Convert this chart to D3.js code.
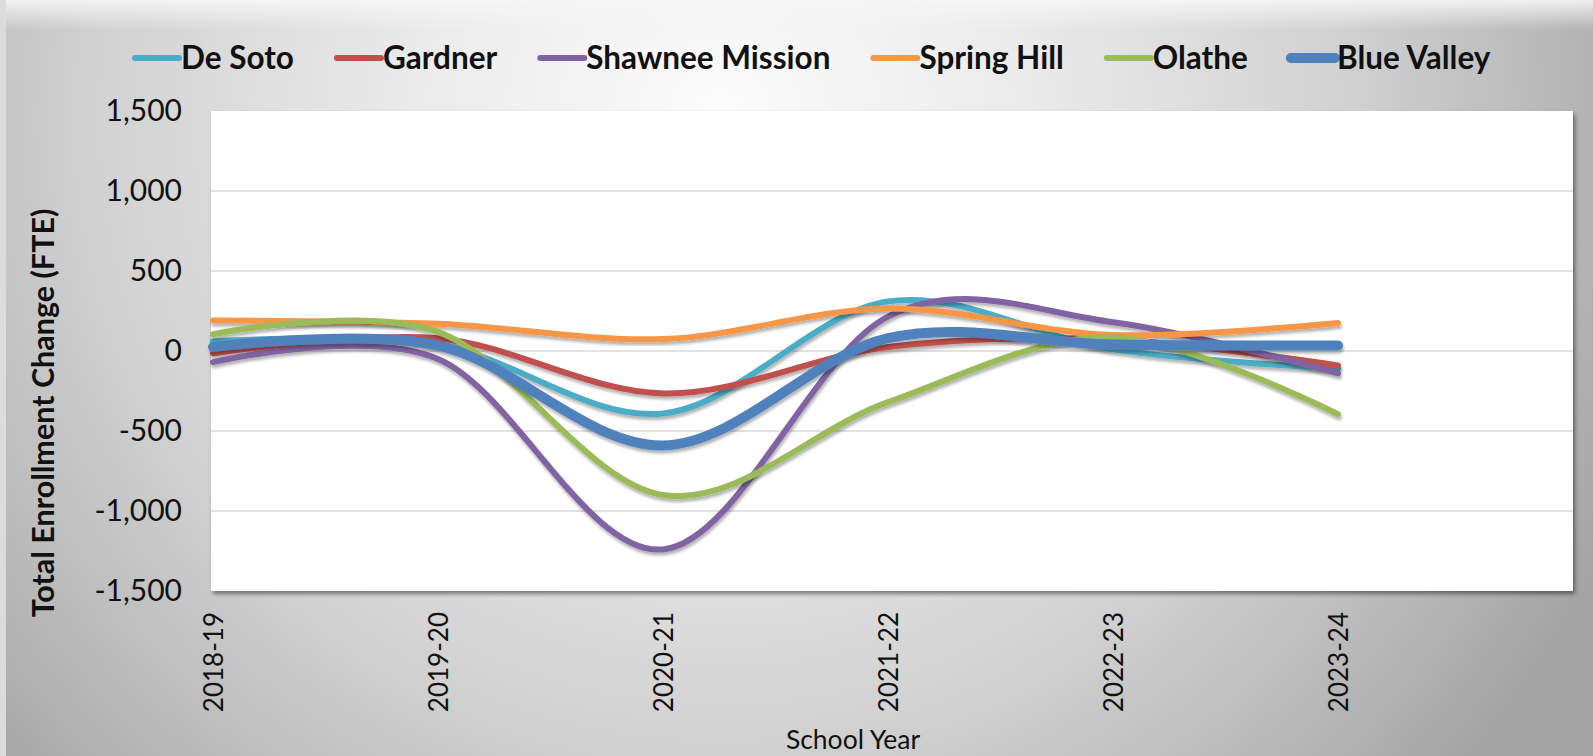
<!DOCTYPE html>
<html>
<head>
<meta charset="utf-8">
<script src="https://cdn.jsdelivr.net/npm/d3@7"></script>
<style>
  html, body { margin: 0; padding: 0; overflow: hidden; }
  body { width: 1593px; height: 756px; font-family: Lato, "Open Sans", sans-serif; }
</style>
</head>
<body>
<script>
const years = ["2018-19", "2019-20", "2020-21", "2021-22", "2022-23", "2023-24"];

const districts = ["De Soto", "Gardner", "Shawnee Mission", "Spring Hill", "Olathe", "Blue Valley"];
const colors = ["#4bacc6", "#c0504d", "#8064a2", "#f79646", "#9bbb59", "#4f81bd"];

const deSoto     = [60, 40, -390, 310, 10, -110];
const gardner    = [-15, 80, -265, 25, 70, -90];
const shawnee    = [-70, -50, -1240, 215, 180, -140];
const springHill = [190, 170, 75, 265, 100, 175];
const olathe     = [105, 120, -900, -320, 85, -395];
const blueValley = [25, 35, -590, 80, 40, 35];

const yTicks = [-1500, -1000, -500, 0, 500, 1000, 1500];

const series = [deSoto, gardner, shawnee, springHill, olathe, blueValley].map((values, i) => ({
  name: districts[i],
  color: colors[i],
  width: i === 5 ? 10 : 6,
  values: values.map((v, j) => ({ year: years[j], value: v }))
}));

const width = 1593, height = 756;
const plot = { left: 211, right: 1573, top: 111, bottom: 591 };

const svg = d3.select("body").append("svg")
  .attr("width", width)
  .attr("height", height);

const defs = svg.append("defs");

// background: light centre, gray edges
const bg = defs.append("radialGradient")
  .attr("id", "bg")
  .attr("gradientUnits", "userSpaceOnUse")
  .attr("cx", 720).attr("cy", 120).attr("r", 1000);
bg.append("stop").attr("offset", "0%").attr("stop-color", "#fcfcfc");
bg.append("stop").attr("offset", "30%").attr("stop-color", "#ebebeb");
bg.append("stop").attr("offset", "62%").attr("stop-color", "#d2d2d2");
bg.append("stop").attr("offset", "82%").attr("stop-color", "#bababa");
bg.append("stop").attr("offset", "100%").attr("stop-color", "#a2a2a2");

const topFade = defs.append("linearGradient")
  .attr("id", "topFade").attr("x1", 0).attr("x2", 0).attr("y1", 0).attr("y2", 1);
topFade.append("stop").attr("offset", "0%").attr("stop-color", "#f7f7f7").attr("stop-opacity", 0.9);
topFade.append("stop").attr("offset", "100%").attr("stop-color", "#f7f7f7").attr("stop-opacity", 0);

const shadow = defs.append("filter").attr("id", "shadow")
  .attr("x", "-5%").attr("y", "-20%").attr("width", "110%").attr("height", "140%");
shadow.append("feDropShadow")
  .attr("dx", 1).attr("dy", 3).attr("stdDeviation", 1.8)
  .attr("flood-color", "#000").attr("flood-opacity", 0.3);

const boxShadow = defs.append("filter").attr("id", "boxShadow")
  .attr("x", "-2%").attr("y", "-2%").attr("width", "104%").attr("height", "106%");
boxShadow.append("feDropShadow")
  .attr("dx", 2).attr("dy", 3).attr("stdDeviation", 2)
  .attr("flood-color", "#000").attr("flood-opacity", 0.45);

svg.append("rect")
  .attr("width", width).attr("height", height)
  .attr("fill", "url(#bg)");

svg.append("rect")
  .attr("width", width).attr("height", 30)
  .attr("fill", "url(#topFade)");

svg.append("rect")
  .attr("width", 6).attr("height", height)
  .attr("fill", "#dcdcdc");

// Scales
const x = d3.scalePoint()
  .domain([...years, ""])
  .range([plot.left + 2, plot.left + 2 + 225 * 6]);

const y = d3.scaleLinear()
  .domain([-1500, 1500])
  .range([plot.bottom, plot.top]);

// plot area
svg.append("rect")
  .attr("x", plot.left).attr("y", plot.top)
  .attr("width", plot.right - plot.left)
  .attr("height", plot.bottom - plot.top)
  .attr("fill", "#fff")
  .attr("filter", "url(#boxShadow)");

// gridlines
svg.append("g")
  .selectAll("line")
  .data(yTicks.filter(t => t > -1500 && t < 1500))
  .join("line")
  .attr("x1", plot.left).attr("x2", plot.right)
  .attr("y1", d => y(d)).attr("y2", d => y(d))
  .attr("stroke", "#d9d9d9")
  .attr("stroke-width", 1.5);

// y axis
const fmt = d3.format(",");
const yAxis = svg.append("g")
  .attr("transform", `translate(${plot.left},0)`)
  .call(d3.axisLeft(y).tickValues(yTicks)
    .tickFormat(d => fmt(d).replace("\u2212", "-"))
    .tickSize(0).tickPadding(29));
yAxis.select(".domain").remove();
yAxis.selectAll("text")
  .attr("font-family", "Lato, sans-serif")
  .attr("font-size", 30)
  .attr("fill", "#111");

// x axis
const xAxis = svg.append("g")
  .attr("transform", `translate(0,${plot.bottom})`)
  .call(d3.axisBottom(x).tickValues(years).tickSize(0));
xAxis.select(".domain").remove();
xAxis.selectAll("text")
  .attr("font-family", "Lato, sans-serif")
  .attr("font-size", 26)
  .attr("fill", "#111")
  .attr("text-anchor", "end")
  .attr("transform", "rotate(-90)")
  .attr("x", -21)
  .attr("y", 0)
  .attr("dy", "0.35em");

// axis titles
svg.append("text")
  .attr("transform", `translate(54,${(plot.top + plot.bottom) / 2 + 62}) rotate(-90)`)
  .attr("text-anchor", "middle")
  .attr("font-family", "Lato, sans-serif")
  .attr("font-weight", "bold")
  .attr("font-size", 30.5)
  .attr("fill", "#111")
  .text("Total Enrollment Change (FTE)");

svg.append("text")
  .attr("x", 853).attr("y", 749)
  .attr("text-anchor", "middle")
  .attr("font-family", "Lato, sans-serif")
  .attr("font-size", 26.5)
  .attr("fill", "#111")
  .text("School Year");

// lines
const line = d3.line()
  .x(d => x(d.year))
  .y(d => y(d.value))
  .curve(d3.curveCardinal.tension(0));

svg.append("g")
  .selectAll("path")
  .data(series)
  .join("path")
  .attr("d", d => line(d.values))
  .attr("fill", "none")
  .attr("stroke", d => d.color)
  .attr("stroke-width", d => d.width)
  .attr("stroke-linecap", "round")
  .attr("filter", "url(#shadow)");

// legend
const legend = svg.append("g").attr("transform", "translate(0,58)");
let lx = 135;
series.forEach(s => {
  const g = legend.append("g");
  g.append("line")
    .attr("x1", lx).attr("x2", lx + 44)
    .attr("y1", 0).attr("y2", 0)
    .attr("stroke", s.color)
    .attr("stroke-width", s.width)
    .attr("stroke-linecap", "round");
  const t = g.append("text")
    .attr("x", lx + 46).attr("y", 0)
    .attr("dy", "0.36em")
    .attr("font-family", "Lato, sans-serif")
    .attr("font-weight", "bold")
    .attr("font-size", 31.5)
    .attr("fill", "#111")
    .text(s.name);
  lx += 46 + t.node().getComputedTextLength() + 43;
});
</script>
</body>
</html>
